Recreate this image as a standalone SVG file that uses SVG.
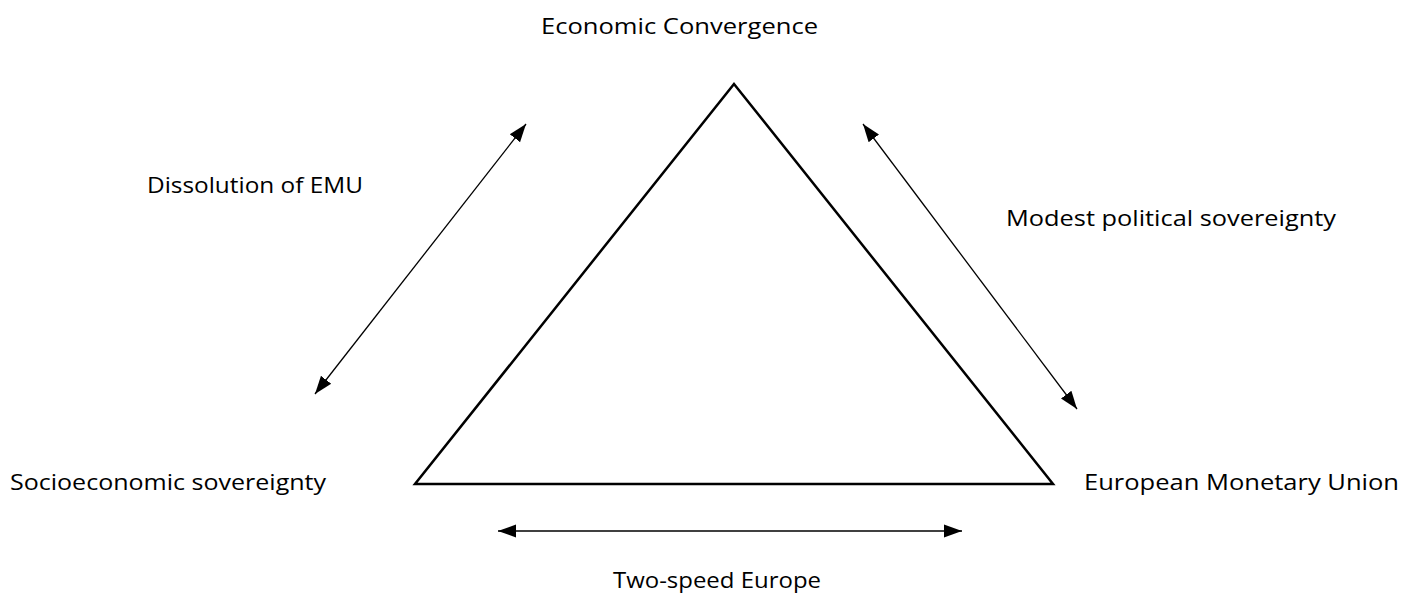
<svg xmlns="http://www.w3.org/2000/svg" width="1419" height="598" viewBox="0 0 1419 598">
  <style>
    .label { font-family: "Open Sans", "Liberation Sans", sans-serif; font-size: 21px; fill: #000; }
    .edge { stroke: #000; stroke-width: 1.3; fill: none; }
    .tri { stroke: #000; stroke-width: 2.5; fill: none; stroke-linejoin: miter; }
  </style>
  <defs>
    <!-- filled triangular arrowhead, used at both ends of each connector -->
    <marker id="head" viewBox="0 0 10 10" refX="10" refY="5" markerWidth="18" markerHeight="18" markerUnits="userSpaceOnUse" orient="auto-start-reverse">
      <path d="M0,1.4 L10,5 L0,8.6 Z" fill="#000"/>
    </marker>
  </defs>
  <rect width="1419" height="598" fill="#fff"/>

  <g id="triangle">
    <polygon class="tri" points="734,84 1053,484 415,484"/>
  </g>

  <g id="connectors">
    <line class="edge" x1="526" y1="124" x2="315" y2="394" marker-start="url(#head)" marker-end="url(#head)"/>
    <line class="edge" x1="863" y1="124" x2="1077" y2="409" marker-start="url(#head)" marker-end="url(#head)"/>
    <line class="edge" x1="498" y1="531" x2="962" y2="531" marker-start="url(#head)" marker-end="url(#head)"/>
  </g>

  <g id="node-convergence">
    <text class="label" x="541" y="34" textLength="277" lengthAdjust="spacingAndGlyphs">Economic Convergence</text>
  </g>
  <g id="node-dissolution">
    <text class="label" x="147" y="193" textLength="216" lengthAdjust="spacingAndGlyphs">Dissolution of EMU</text>
  </g>
  <g id="node-political">
    <text class="label" x="1006" y="226" textLength="330" lengthAdjust="spacingAndGlyphs">Modest political sovereignty</text>
  </g>
  <g id="node-socioeconomic">
    <text class="label" x="10" y="490" textLength="316" lengthAdjust="spacingAndGlyphs">Socioeconomic sovereignty</text>
  </g>
  <g id="node-emu">
    <text class="label" x="1084" y="490" textLength="315" lengthAdjust="spacingAndGlyphs">European Monetary Union</text>
  </g>
  <g id="node-twospeed">
    <text class="label" x="613" y="588" textLength="208" lengthAdjust="spacingAndGlyphs">Two-speed Europe</text>
  </g>
</svg>
